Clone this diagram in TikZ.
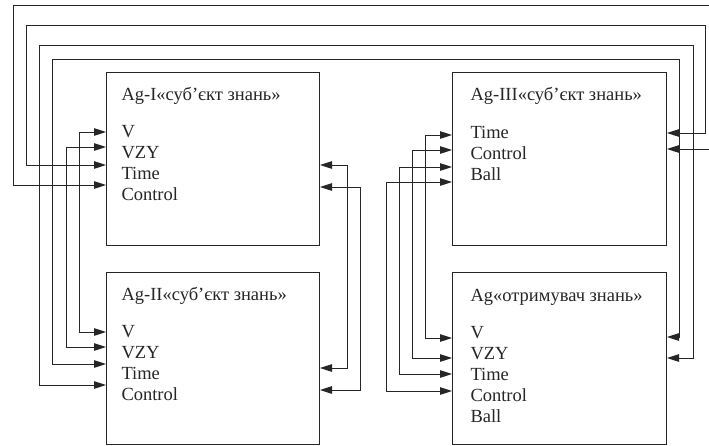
\documentclass[tikz,border=0pt]{standalone}
\usepackage{fontspec}
\setmainfont{Liberation Serif}
\usetikzlibrary{arrows.meta}
\tikzset{
  agnet/.style={x=1pt,y=-1pt,line width=1pt,font=\rmfamily\fontsize{18.5}{21}\selectfont},
  agbox/.style={draw,black!85,anchor=north west,inner sep=0pt},
  lbl/.style={anchor=base west,inner sep=0pt,text=black!85},
  link/.style={black!85,{Triangle[length=12pt,width=7.5pt]}-{Triangle[length=12pt,width=7.5pt]}}
}

\begin{document}
\begin{tikzpicture}[agnet]
    \useasboundingbox[fill=white] (0,0) rectangle (709,445);
    % agents
    \node[agbox,minimum width=213pt,minimum height=173pt] (ag1) at (106,72) {};
    \node[agbox,minimum width=213pt,minimum height=172pt] (ag2) at (106,272) {};
    \node[agbox,minimum width=214pt,minimum height=173pt] (ag3) at (452,72) {};
    \node[agbox,minimum width=214pt,minimum height=172pt] (ag4) at (452,272) {};
    % titles and fields
    \node[lbl] (t1) at (121,100) {Ag-I«суб’єкт знань»};
    \node[lbl] (t2) at (121,300) {Ag-II«суб’єкт знань»};
    \node[lbl] (t3) at (470,100) {Ag-III«суб’єкт знань»};
    \node[lbl] (t4) at (470,301) {Ag«отримувач знань»};
    \foreach \t [count=\i] in {V,VZY,Time,Control} {
      \node[lbl] (f1-\i) at (121,{116+21*\i}) {\t};
      \node[lbl] (f2-\i) at (121,{316+21*\i}) {\t};
    }
    \foreach \t [count=\i] in {Time,Control,Ball}
      \node[lbl] (f3-\i) at (470,{117+21*\i}) {\t};
    \foreach \t [count=\i] in {V,VZY,Time,Control,Ball}
      \node[lbl] (f4-\i) at (470,{317+21*\i}) {\t};
    % ports
    \foreach \n/\y in {v/132,vzy/147,time/165,ctrl/185} \coordinate (ag1-\n) at (ag1.west |- 0,\y);
    \foreach \n/\y in {time/165,ctrl/187} \coordinate (ag1-r\n) at (ag1.east |- 0,\y);
    \foreach \n/\y in {v/332,vzy/347,time/364,ctrl/385} \coordinate (ag2-\n) at (ag2.west |- 0,\y);
    \foreach \n/\y in {time/368,ctrl/390} \coordinate (ag2-r\n) at (ag2.east |- 0,\y);
    \foreach \n/\y in {time/135,ctrl/150,ball/167,extra/182} \coordinate (ag3-\n) at (ag3.west |- 0,\y);
    \foreach \n/\y in {time/133,ctrl/149} \coordinate (ag3-r\n) at (ag3.east |- 0,\y);
    \foreach \n/\y in {v/338,vzy/358,time/374,ctrl/391} \coordinate (ag4-\n) at (ag4.west |- 0,\y);
    \foreach \n/\y in {v/337,vzy/358} \coordinate (ag4-r\n) at (ag4.east |- 0,\y);
    % outer loops
    \draw[link] (ag1-ctrl) -- ++(-93,0) |- (712,5) |- (ag3-rctrl);
    \draw[link] (ag1-time) -- ++(-80,0) |- (705,25) |- (ag3-rtime);
    \draw[link] (ag2-ctrl) -- ++(-67,0) |- (693,45) |- (ag4-rvzy);
    \draw[link] (ag2-time) -- ++(-54,0) |- (679,59) |- (ag4-rv);
    % Ag-I <-> Ag-II
    \draw[link] (ag1-v) -- ++(-27,0) |- (ag2-v);
    \draw[link] (ag1-vzy) -- ++(-40,0) |- (ag2-vzy);
    \draw[link] (ag1-rtime) -- ++(27,0) |- (ag2-rtime);
    \draw[link] (ag1-rctrl) -- ++(40,0) |- (ag2-rctrl);
    % Ag-III <-> Ag
    \draw[link] (ag3-time) -- ++(-27,0) |- (ag4-v);
    \draw[link] (ag3-ctrl) -- ++(-40,0) |- (ag4-vzy);
    \draw[link] (ag3-ball) -- ++(-53,0) |- (ag4-time);
    \draw[link] (ag3-extra) -- ++(-66,0) |- (ag4-ctrl);
  \end{tikzpicture}
\end{document}
